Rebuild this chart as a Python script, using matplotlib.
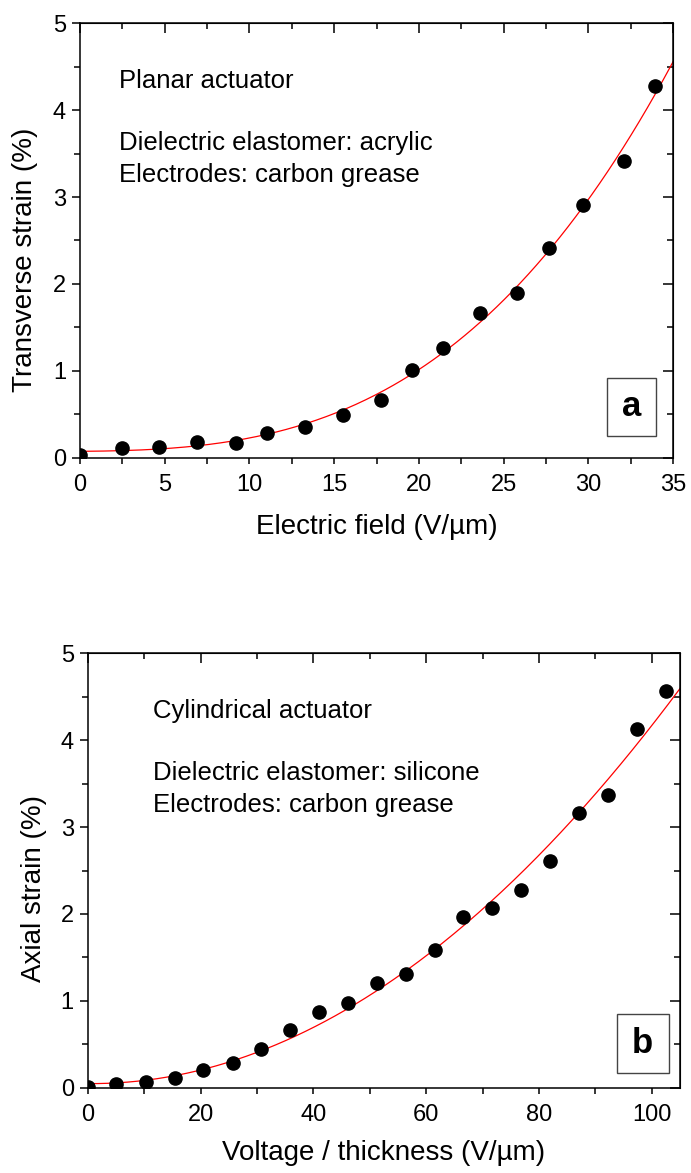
import numpy as np
import matplotlib.pyplot as plt
from matplotlib.patches import Rectangle
from matplotlib.ticker import MultipleLocator

plt.rcParams['font.family'] = ['Liberation Sans', 'DejaVu Sans']

# (a) planar actuator, acrylic
field_a = [0.0, 2.50, 4.68, 6.89, 9.21, 11.06, 13.26, 15.51, 17.75, 19.58,
           21.45, 23.59, 25.77, 27.67, 29.67, 32.11, 33.95]
strain_a = [0.03, 0.115, 0.127, 0.184, 0.173, 0.28, 0.357, 0.488, 0.668, 1.01,
            1.26, 1.67, 1.90, 2.41, 2.91, 3.42, 4.28]

# (b) cylindrical actuator, silicone
field_b = [0.0, 5.1, 10.3, 15.4, 20.5, 25.7, 30.8, 35.9, 41.0, 46.1, 51.2,
           56.4, 61.5, 66.6, 71.7, 76.9, 82.0, 87.1, 92.3, 97.4, 102.6]
strain_b = [0.01, 0.04, 0.06, 0.11, 0.20, 0.28, 0.44, 0.66, 0.87, 0.98, 1.21,
            1.31, 1.58, 1.96, 2.07, 2.28, 2.61, 3.16, 3.37, 4.13, 4.57]

W, H = 691, 1173
fig = plt.figure(figsize=(W / 100, H / 100), dpi=100)
ax1 = fig.add_axes([80 / W, 1 - 457.7 / H, 593 / W, 434.4 / H])
ax2 = fig.add_axes([87.7 / W, 1 - 1087.7 / H, 592.3 / W, 434.4 / H])


def style(ax, xmax, xmaj, xmin):
    ax.set_xlim(0, xmax)
    ax.set_ylim(0, 5)
    ax.xaxis.set_major_locator(MultipleLocator(xmaj))
    ax.xaxis.set_minor_locator(MultipleLocator(xmin))
    ax.yaxis.set_major_locator(MultipleLocator(1))
    ax.yaxis.set_minor_locator(MultipleLocator(0.5))
    for s in ax.spines.values():
        s.set_linewidth(1.1)
    ax.tick_params(which='both', direction='out', width=1.1, labelsize=17,
                   top=False, right=False)
    ax.tick_params(axis='x', which='major', length=4.5, pad=7)
    ax.tick_params(axis='x', which='minor', length=4.5)
    ax.tick_params(axis='y', which='major', length=6, pad=4)
    ax.tick_params(axis='y', which='minor', length=4)
    # inward ticks on top and right
    sx = ax.secondary_xaxis('top')
    sx.xaxis.set_major_locator(MultipleLocator(xmaj))
    sx.xaxis.set_minor_locator(MultipleLocator(xmin))
    sx.tick_params(which='both', direction='in', width=1.1, labeltop=False)
    sx.tick_params(which='major', length=7)
    sx.tick_params(which='minor', length=4.5)
    sy = ax.secondary_yaxis('right')
    sy.yaxis.set_major_locator(MultipleLocator(1))
    sy.yaxis.set_minor_locator(MultipleLocator(0.5))
    sy.tick_params(which='both', direction='in', width=1.1, labelright=False)
    sy.tick_params(which='major', length=7)
    sy.tick_params(which='minor', length=4.5)


def panel(ax, x, y, deg, xmax, letter, box, lines, tx):
    coef = np.polyfit(x, y, deg)
    xs = np.linspace(0, xmax, 300)
    ax.plot(xs, np.polyval(coef, xs), color='red', lw=0.9, zorder=2)
    ax.plot(x, y, 'o', color='black', ms=9.5, zorder=3)
    for (t, yy) in zip(lines, [0.851, 0.708, 0.634]):
        ax.text(tx, yy, t, transform=ax.transAxes, fontsize=18.5, va='baseline')
    ax.add_patch(Rectangle((box[0], box[1]), box[2], box[3], transform=ax.transAxes,
                           fill=False, edgecolor='#444444', lw=1.0))
    ax.text(box[0] + box[2] / 2, box[1] + box[3] / 2, letter, transform=ax.transAxes,
            fontsize=25, fontweight='bold', ha='center', va='center')


style(ax1, 35, 5, 2.5)
panel(ax1, field_a, strain_a, 3, 35, 'a', (0.889, 0.05, 0.082, 0.1335),
      ['Planar actuator', 'Dielectric elastomer: acrylic', 'Electrodes: carbon grease'],
      0.065)
ax1.set_xlabel('Electric field (V/µm)', fontsize=20)
ax1.set_ylabel('Transverse strain (%)', fontsize=20)
ax1.xaxis.set_label_coords(0.5, -0.16)
ax1.xaxis.label.set_va('center')
ax1.yaxis.set_label_coords(-0.093, 0.456)
ax1.yaxis.label.set_va('center')

style(ax2, 105, 20, 10)
panel(ax2, field_b, strain_b, 2, 105, 'b', (0.893, 0.0345, 0.088, 0.1345),
      ['Cylindrical actuator', 'Dielectric elastomer: silicone', 'Electrodes: carbon grease'],
      0.11)
ax2.set_xlabel('Voltage / thickness (V/µm)', fontsize=20)
ax2.set_ylabel('Axial strain (%)', fontsize=20)
ax2.xaxis.set_label_coords(0.5, -0.15)
ax2.xaxis.label.set_va('center')
ax2.yaxis.set_label_coords(-0.09, 0.458)
ax2.yaxis.label.set_va('center')

fig.savefig('out.png', dpi=100)
